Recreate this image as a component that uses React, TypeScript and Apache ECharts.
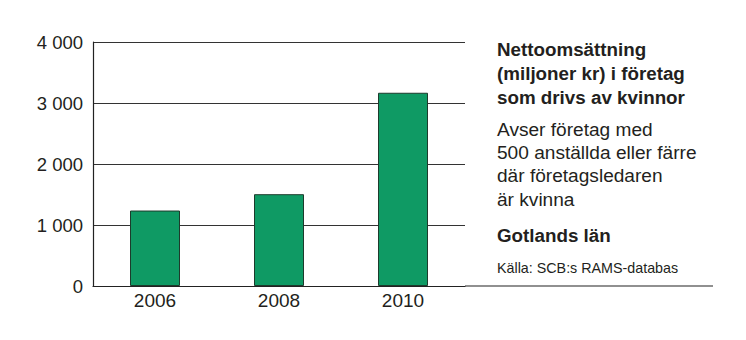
import React, { useEffect, useRef } from "react";
import * as echarts from "echarts";

const categories = ["2006", "2008", "2010"];
const values = [1237, 1505, 3168];
const yTicks = [0, 1000, 2000, 3000, 4000];
const titleLines = ["Nettoomsättning", "(miljoner kr) i företag", "som drivs av kvinnor"];
const noteLines = ["Avser företag med", "500 anställda eller färre", "där företagsledaren", "är kvinna"];
const regionLabel = "Gotlands län";
const sourceLabel = "Källa: SCB:s RAMS-databas";

const FONT = "'Liberation Sans', Arial, sans-serif";

export default function App() {
  const ref = useRef<HTMLDivElement>(null);
  useEffect(() => {
    if (!ref.current) return;
    const chart = echarts.init(ref.current, undefined, { renderer: "svg" });
    const graphics: any[] = [
      {
        type: "text",
        left: 497,
        top: 38,
        style: {
          text: titleLines.join("\n"),
          font: `bold 18.8px ${FONT}`,
          lineHeight: 23.8,
          fill: "#231f20",
        },
      },
      {
        type: "text",
        left: 497,
        top: 117.7,
        style: {
          text: noteLines.join("\n"),
          font: `19.1px ${FONT}`,
          lineHeight: 23.3,
          fill: "#231f20",
        },
      },
      {
        type: "text",
        left: 497,
        top: 223.4,
        style: { text: regionLabel, font: `bold 18.8px ${FONT}`, lineHeight: 24, fill: "#231f20" },
      },
      {
        type: "text",
        left: 497,
        top: 259,
        style: { text: sourceLabel, font: `14.3px ${FONT}`, lineHeight: 18, fill: "#231f20" },
      },
      {
        type: "line",
        shape: { x1: 465, y1: 286, x2: 713, y2: 286 },
        style: { stroke: "#222", lineWidth: 1.2 },
      },
    ];
    chart.setOption({
      animation: false,
      grid: { left: 93, top: 42, right: 281, bottom: 54, containLabel: false },
      xAxis: {
        type: "category",
        data: categories,
        axisLine: { show: true, lineStyle: { color: "#222", width: 1.2 } },
        axisTick: { show: false },
        axisLabel: { fontFamily: FONT, fontSize: 19, color: "#231f20", margin: 4.5 },
      },
      yAxis: {
        type: "value",
        min: 0,
        max: 4000,
        interval: 1000,
        axisLine: { show: true, lineStyle: { color: "#222", width: 1.2 } },
        axisTick: { show: false },
        splitLine: { show: true, lineStyle: { color: "#333", width: 1 } },
        axisLabel: {
          fontFamily: FONT,
          fontSize: 18.5,
          color: "#231f20",
          margin: 10,
          formatter: (v: number) =>
            yTicks.includes(v) ? String(v).replace(/\B(?=(\d{3})+(?!\d))/g, " ") : "",
        },
      },
      series: [
        {
          type: "bar",
          data: values,
          barWidth: 50,
          itemStyle: { color: "#0f9a64", borderColor: "#1d3b2c", borderWidth: 1 },
        },
      ],
      graphic: graphics,
    });
    return () => chart.dispose();
  }, []);
  return (
    <div
      ref={ref}
      style={{ position: "absolute", left: 0, top: 0, width: 746, height: 340, background: "#fff" }}
    />
  );
}
